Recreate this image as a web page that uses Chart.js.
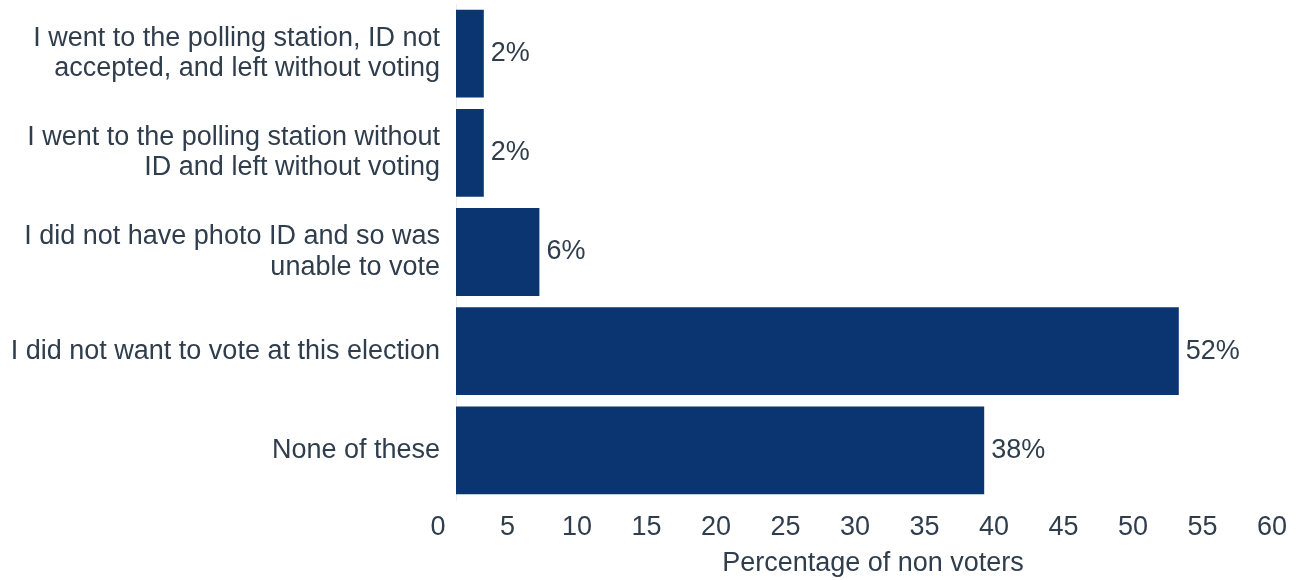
<!DOCTYPE html>
<html>
<head>
<meta charset="utf-8">
<script src="https://cdn.jsdelivr.net/npm/chart.js@4/dist/chart.umd.min.js"></script>
<style>
  html, body { margin: 0; padding: 0; background: #fff; }
  #wrap { width: 1299px; height: 580px; }
</style>
</head>
<body>
<div id="wrap"><canvas id="myChart" width="1299" height="580"></canvas></div>
<script>
// categories (top to bottom) and values
const categories = [
    ["I went to the polling station, ID not", "accepted, and left without voting"],
    ["I went to the polling station without", "ID and left without voting"],
    ["I did not have photo ID and so was", "unable to vote"],
    "I did not want to vote at this election",
    "None of these"
];
const percentages = [2, 2, 6, 52, 38];
const valueLabels = ["2%", "2%", "6%", "52%", "38%"];
const xTicks = [0, 5, 10, 15, 20, 25, 30, 35, 40, 45, 50, 55, 60];

const textColor = '#2f3d4c';
const barColor = '#0b3571';
const font = { family: '"Liberation Sans", Arial, sans-serif', size: 27 };

// draw the "52%" style labels at the end of each bar
const barLabels = {
    id: 'barLabels',
    afterDatasetsDraw(chart) {
        const ctx = chart.ctx;
        const meta = chart.getDatasetMeta(0);
        ctx.save();
        ctx.font = font.size + 'px ' + font.family;
        ctx.fillStyle = textColor;
        ctx.textAlign = 'left';
        ctx.textBaseline = 'middle';
        meta.data.forEach((bar, i) => {
            ctx.fillText(valueLabels[i], bar.x + 7, bar.y);
        });
        ctx.restore();
    }
};

const ctx = document.getElementById('myChart');

new Chart(ctx, {
    type: 'bar',
    data: {
        labels: categories,
        datasets: [{
            data: percentages,
            backgroundColor: barColor,
            borderWidth: 0,
            barPercentage: 0.885,
            categoryPercentage: 1
        }]
    },
    options: {
        indexAxis: 'y',
        responsive: false,
        animation: false,
        layout: { padding: { top: 4, right: 9, left: 0, bottom: 0 } },
        plugins: {
            legend: { display: false },
            tooltip: { enabled: false }
        },
        scales: {
            x: {
                min: 0,
                max: 60,
                afterBuildTicks(scale) {
                    scale.ticks = xTicks.map(v => ({ value: v }));
                },
                afterFit(scale) {
                    scale.height = 80;
                    scale.paddingLeft = 0;
                    scale.paddingRight = 0;
                },
                grid: { display: false, drawTicks: false },
                border: { display: false },
                ticks: {
                    color: textColor,
                    font: font,
                    padding: 11,
                    labelOffset: -18,
                    maxRotation: 0
                },
                title: {
                    display: true,
                    text: 'Percentage of non voters',
                    color: textColor,
                    font: font,
                    padding: { top: 4, bottom: 0 }
                }
            },
            y: {
                afterFit(scale) {
                    scale.width = 456;
                    scale.paddingTop = 0;
                    scale.paddingBottom = 0;
                },
                grid: { display: false, drawTicks: false },
                border: { display: true, color: '#ececec', width: 1 },
                ticks: {
                    color: textColor,
                    font: { family: font.family, size: 27, lineHeight: 1.12 },
                    padding: 16
                }
            }
        }
    },
    plugins: [barLabels]
});
</script>
</body>
</html>
